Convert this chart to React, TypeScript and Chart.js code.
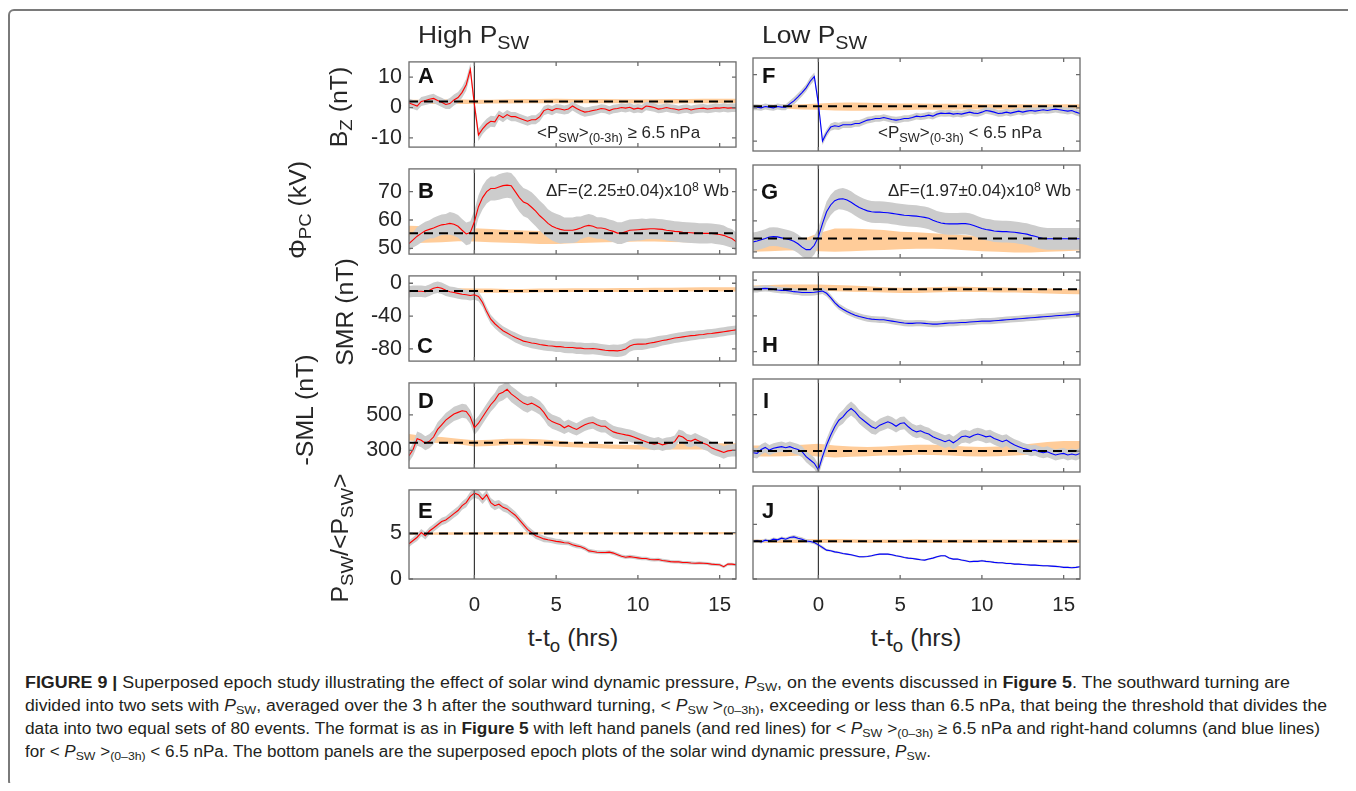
import React, { useEffect, useLayoutEffect, useRef } from "react";
import { Chart, registerables } from "chart.js";
Chart.register(...registerables);

// ---------- sample times ----------
const T = Array.from({ length: 81 }, (_, i) => -4 + i * 0.25); // epoch time (hrs), 15-min samples
const HOURS = Array.from({ length: 21 }, (_, i) => -4 + i); // hourly samples for band widths
const X_TICKS = [0, 5, 10, 15];

// ---------- Panel A : Bz, high Psw ----------
const A_MEAN = [
  1.5, 1, 0.5, 2, 2.3, 2.7, 3, 2.3, 1.7, 1, 1.3, 2.5, 3.3, 5, 7.5, 12.5,
  1, -9, -7, -5.5, -4.5, -4.7, -2.5, -3.3, -2.3, -3, -3, -3.5, -4, -4.5, -4, -4,
  -3, -1, -0.5, -1, -0.3, -0.5, -0.8, -0.5, 0.5, -0.3, -1, -1.5, -1.3, -1, -0.7, -0.3,
  -0.5, -1, -0.5, -0.3, 0, -0.2, 0.1, -0.5, -0.2, -0.5, 0.5, 0.3, 0, -0.5, -0.3, 0,
  -0.3, -0.5, -0.8, -0.5, -0.3, -0.8, -0.5, -0.3, -0.2, -0.5, -0.3, -0.1, -0.2, 0, -0.2, -0.1,
  -0.1,
];
const A_SD = [1.5, 1.5, 1.5, 1.8, 2, 1.8, 1.5, 1.5, 1.5, 1.5, 1.5, 1.5, 1.4, 1.4, 1.4, 1.4, 1.4, 1.4, 1.4, 1.4, 1.4];
const A_ORLO = [1.2, 1.2, 1.2, 1.2, 1.2, 1.3, 1.3, 1.4, 1.4, 1.4, 1.4, 1.4, 1.4, 1.4, 1.3, 1.3, 1.3, 1.4, 1.4, 1.4, 1.4];
const A_ORHI = [2.6, 2.6, 2.7, 2.7, 2.6, 2.6, 2.7, 2.8, 2.8, 2.9, 2.8, 2.8, 2.8, 2.7, 2.7, 2.7, 2.8, 2.8, 2.9, 2.9, 2.9];
const A_DASH = 2.0;

// ---------- Panel F : Bz, low Psw ----------
const F_MEAN = [
  0.2, 0.2, 0, 0.4, 0.2, 0, 0.4, 0.2, 0.2, 1.2, 2.1, 3.3, 4.6, 6, 8, 9.4,
  1.2, -10, -7.6, -5.8, -5.4, -5.6, -5.1, -5.1, -5.1, -4.7, -4.7, -4.2, -3.7, -3.5, -3.2, -3.2,
  -2.9, -3.2, -3.5, -3.7, -3.5, -3.2, -3.2, -2.9, -2.5, -2.7, -2.5, -2.2, -2.5, -1.9, -1.6, -1.7,
  -1.6, -1.9, -1.7, -1.9, -1.6, -1.3, -1.6, -1.7, -1.3, -0.8, -1, -1.3, -1.7, -1.6, -1.3, -1.6,
  -1.3, -1, -1.3, -1, -0.8, -1, -0.8, -0.6, -0.8, -0.6, -0.4, -0.6, -0.8, -1, -0.8, -1.3,
  -1.7,
];
const F_SD = [0.9, 0.9, 0.9, 1.1, 1.2, 1.1, 1, 1, 1, 1, 1, 1, 1, 1, 1, 1, 1, 1, 1, 1, 1];
const F_ORLO = [-0.3, -0.3, -0.3, -0.5, -0.6, -0.8, -0.9, -0.9, -0.8, -0.7, -0.6, -0.6, -0.6, -0.5, -0.5, -0.5, -0.5, -0.4, -0.4, -0.4, -0.4];
const F_ORHI = [0.9, 0.9, 1.0, 1.1, 1.3, 1.5, 1.6, 1.5, 1.4, 1.3, 1.3, 1.2, 1.2, 1.2, 1.1, 1.1, 1.1, 1.1, 1.1, 1.1, 1.1];
const F_DASH = 0.5;

// ---------- Panel B : Phi_PC, high Psw ----------
const B_MEAN = [
  51.7, 53, 54.3, 55.3, 56.2, 56.7, 57.2, 57.8, 58.3, 58.5, 58.8, 58.5, 57.8, 56.4, 55.1, 55.6,
  59.4, 64.7, 67.9, 70, 71.1, 71.1, 71.6, 72.1, 72.3, 72.1, 70, 67.9, 66.3, 65.7, 64.5, 63.1,
  61.5, 60.2, 58.8, 57.8, 57.2, 56.7, 56.4, 56.4, 56.4, 56.7, 57.2, 57.8, 58.1, 57.8, 57.2, 57.2,
  56.9, 56.4, 56, 55.4, 55.4, 55.9, 56.4, 56.5, 56.6, 56.7, 56.8, 56.9, 56.9, 56.8, 56.7, 56.4,
  56.2, 56, 55.9, 55.7, 55.6, 55.5, 55.4, 55.3, 55.3, 55.3, 55.3, 55.1, 54.9, 54.6, 54, 53.5,
  52.4,
];
const B_SD = [2.7, 3.2, 3.6, 4.0, 4.0, 4.2, 4.5, 5.0, 5.3, 5.0, 4.5, 4.0, 3.8, 3.8, 3.8, 3.6, 3.6, 3.6, 3.6, 3.5, 3.3];
const B_ORLO = [51.8, 52, 52.2, 52.5, 52.4, 52.2, 52, 51.8, 51.6, 51.6, 51.8, 52, 52.2, 52.3, 52.4, 52.4, 52.3, 52.2, 52.2, 52.3, 52.4];
const B_ORHI = [58, 57.8, 57.5, 57.3, 57.1, 56.8, 56.5, 56.3, 56.1, 55.9, 55.7, 55.6, 55.5, 55.5, 55.4, 55.4, 55.4, 55.4, 55.4, 55.4, 55.4];
const B_DASH = 55.3;

// ---------- Panel G : Phi_PC, low Psw ----------
const G_MEAN = [
  53.2, 53.5, 53.9, 54.3, 54.8, 54.9, 54.8, 54.5, 54.2, 53.9, 53.4, 52.6, 51.5, 50.7, 50.7, 52.1,
  54.8, 59.1, 62.9, 65.1, 66.5, 67, 67.1, 66.7, 66, 65.1, 64.3, 63.7, 63.2, 62.9, 62.8, 62.8,
  62.7, 62.6, 62.4, 62.2, 62, 61.8, 61.7, 61.6, 61.5, 61.3, 61.1, 60.8, 60.2, 59.7, 59.3, 59.1,
  59, 59, 59, 59.1, 59.1, 58.9, 58.5, 58, 57.5, 57.2, 57, 56.7, 56.6, 56.5, 56.5, 56.4,
  56.3, 56.1, 55.9, 55.7, 55.3, 55, 54.6, 54.3, 54.2, 54.2, 54.2, 54.2, 54.2, 54.2, 54.2, 54.2,
  54.2,
];
const G_SD = [3, 3, 3, 3, 3, 3.3, 3.5, 3.5, 3.5, 3.5, 3.5, 3.5, 3.5, 3.5, 3.5, 3.5, 3.5, 3.5, 3.5, 3.5, 3.5];
const G_ORLO = [50, 50.2, 50.4, 50.5, 50.2, 50, 50.2, 50.4, 50.6, 50.8, 51, 51, 50.8, 50.5, 50.2, 50, 49.8, 49.8, 50, 50.2, 50.4];
const G_ORHI = [52, 52.5, 53, 54, 56, 57.5, 57.5, 57.3, 57, 56.5, 56.3, 56, 55.7, 55.3, 55, 54.8, 54.5, 54.3, 54.2, 54.2, 54.2];
const G_DASH = 54.3;

// ---------- Panel C : SMR, high Psw ----------
const C_MEAN = [
  -10.4, -9.7, -9.7, -9.7, -10.4, -8.6, -6, -4.8, -6, -8.6, -10.4, -11.2, -12.3, -13.4, -14.1, -14.9,
  -14.1, -16, -23.4, -34.6, -43.9, -49.4, -53.9, -58, -60.6, -63.6, -66.2, -68.4, -70.6, -71.7, -72.9, -73.6,
  -74.7, -75.5, -76.2, -76.6, -77.3, -77.3, -78.1, -78.4, -78.4, -79.2, -79.2, -79.9, -79.9, -79.6, -80.3, -81,
  -81.8, -82.2, -82.2, -82.5, -81.8, -80.3, -76.6, -74.7, -74.3, -74.3, -74, -72.9, -72.1, -71, -69.9, -69.1,
  -68, -66.9, -66.2, -65.4, -64.7, -63.9, -63.6, -62.8, -62.5, -61.7, -61.3, -60.6, -59.9, -59.1, -58.4, -57.6,
  -56.9,
];
const C_SD = [7, 7, 7, 6.5, 6, 5.5, 5.5, 6, 6.5, 6.5, 7, 7, 7, 7.5, 7, 6.5, 6, 6, 5.5, 5.5, 5.5];
const C_ORLO = [-11, -11, -11, -11, -11.5, -11.5, -11.5, -11.5, -11, -11, -10.5, -10.5, -10.5, -10.5, -10.5, -10.5, -10.5, -10, -10, -10, -10];
const C_ORHI = [-6, -6, -6, -6, -6.5, -6.5, -7, -7, -6.5, -6.5, -6, -6, -6, -5.8, -5.8, -5.5, -5.5, -5.3, -5, -5, -5];
const C_DASH = -9.3;

// ---------- Panel H : SMR, low Psw ----------
const H_MEAN = [
  -10.4, -10.4, -9.6, -9.3, -9.6, -10.4, -11.1, -11.5, -11.5, -12.2, -13, -13.3, -14, -14, -14, -13.7,
  -13, -12.2, -14.8, -19.6, -25.2, -29.6, -32.6, -35.2, -37.4, -39.3, -40.7, -41.9, -43, -43.7, -44.1, -44.4,
  -44.4, -45.2, -45.9, -46.7, -47.4, -48.1, -48.5, -48.5, -48.1, -48.1, -48.5, -48.9, -49.3, -49.3, -48.9, -48.5,
  -48.1, -48.1, -47.8, -47.4, -47.4, -47, -46.7, -46.3, -45.9, -45.9, -45.9, -45.6, -45.2, -44.8, -44.4, -44.1,
  -43.7, -43.3, -43, -42.6, -42.2, -41.9, -41.5, -41.1, -40.7, -40.4, -40, -39.6, -39.3, -38.9, -38.5, -38.1,
  -37.8,
];
const H_SD = [3.5, 3.5, 3.5, 3.5, 3.5, 3.5, 3.5, 3.5, 3.5, 3.5, 3.5, 3.5, 3.5, 3.5, 3.5, 3.5, 3.5, 3.5, 3.5, 3.5, 3.5];
const H_ORLO = [-11, -11, -11, -11.5, -12, -12.5, -13, -13.5, -14, -14.5, -14.5, -14, -13.5, -13.5, -13.5, -14, -14, -14.5, -15, -15.5, -16];
const H_ORHI = [-6, -5.5, -5, -5, -5, -5.5, -6, -7, -8, -8.5, -8.5, -8, -7.5, -7.5, -8, -8, -8.5, -9, -9.5, -10, -10.5];
const H_DASH = -10.4;

// ---------- Panel D : -SML, high Psw ----------
const D_MEAN = [
  270, 305, 366, 357, 340, 352, 375, 418, 444, 470, 488, 505, 514, 523, 519, 488,
  427, 453, 488, 523, 557, 583, 618, 627, 644, 618, 601, 583, 566, 557, 566, 554,
  540, 514, 479, 462, 453, 444, 427, 439, 427, 418, 432, 444, 453, 457, 444, 436,
  436, 418, 404, 397, 392, 387, 383, 375, 366, 357, 349, 340, 335, 340, 331, 338,
  340, 349, 383, 375, 357, 352, 363, 352, 340, 331, 314, 305, 297, 288, 297, 300,
  300,
];
const D_SD = [35, 40, 40, 40, 40, 40, 45, 45, 40, 40, 35, 35, 35, 35, 35, 35, 35, 35, 35, 35, 35];
const D_ORLO = [355, 345, 340, 335, 322, 325, 330, 330, 328, 322, 318, 315, 310, 308, 305, 305, 305, 305, 305, 305, 305];
const D_ORHI = [392, 380, 375, 365, 357, 360, 365, 366, 362, 355, 345, 340, 335, 332, 330, 332, 335, 338, 340, 340, 340];
const D_DASH = 343;

// ---------- Panel I : -SML, low Psw ----------
const I_MEAN = [
  291, 287, 309, 320, 305, 315, 320, 324, 318, 324, 315, 309, 296, 269, 251, 233,
  196, 269, 333, 387, 433, 469, 487, 515, 533, 515, 487, 469, 451, 433, 424, 442,
  451, 460, 451, 436, 451, 455, 433, 415, 405, 411, 400, 393, 378, 369, 360, 351,
  360, 345, 360, 378, 382, 375, 387, 393, 387, 378, 382, 369, 360, 351, 360, 345,
  333, 324, 315, 309, 302, 305, 296, 291, 296, 287, 278, 284, 287, 278, 284, 278,
  287,
];
const I_SD = [28, 28, 28, 30, 32, 35, 38, 38, 35, 35, 35, 35, 35, 35, 35, 35, 32, 30, 30, 30, 30];
const I_ORLO = [270, 270, 272, 275, 270, 265, 268, 272, 275, 275, 280, 278, 275, 272, 270, 272, 275, 280, 285, 285, 285];
const I_ORHI = [330, 330, 332, 335, 340, 330, 325, 322, 325, 330, 335, 335, 330, 325, 322, 325, 330, 340, 350, 355, 355];
const I_DASH = 300;

// ---------- Panel E : Psw, high ----------
const E_MEAN = [
  3.8, 4.15, 4.5, 5, 4.66, 5.17, 5.5, 5.85, 6.19, 6.36, 6.7, 7.04, 7.38, 7.9, 8.23, 8.9,
  9.25, 9.08, 8.57, 9.08, 8.23, 7.9, 8.06, 7.72, 7.55, 7.2, 6.87, 6.36, 5.85, 5.34, 5, 4.66,
  4.5, 4.32, 4.22, 4.15, 4.05, 4, 3.9, 3.88, 3.7, 3.57, 3.47, 3.3, 3.03, 2.96, 2.89, 2.86,
  2.86, 2.89, 2.79, 2.62, 2.45, 2.35, 2.41, 2.35, 2.28, 2.21, 2.21, 2.1, 2.07, 2.1, 2, 1.94,
  1.87, 1.84, 1.84, 1.77, 1.77, 1.73, 1.7, 1.73, 1.7, 1.67, 1.6, 1.57, 1.53, 1.33, 1.6, 1.6,
  1.53,
];
const E_SD = [0.35, 0.4, 0.4, 0.45, 0.5, 0.5, 0.45, 0.4, 0.35, 0.3, 0.25, 0.22, 0.2, 0.2, 0.2, 0.18, 0.18, 0.18, 0.16, 0.16, 0.16];
const E_ORLO = [4.78, 4.78, 4.78, 4.78, 4.8, 4.8, 4.8, 4.8, 4.82, 4.82, 4.82, 4.82, 4.82, 4.82, 4.82, 4.82, 4.82, 4.82, 4.82, 4.82, 4.82];
const E_ORHI = [5.02, 5.02, 5.04, 5.04, 5.05, 5.06, 5.06, 5.06, 5.07, 5.07, 5.07, 5.07, 5.07, 5.07, 5.07, 5.07, 5.07, 5.07, 5.07, 5.07, 5.07];
const E_DASH = 4.9;

// ---------- Panel J : Psw, low ----------
const J_MEAN = [
  3.42, 3.48, 3.39, 3.55, 3.48, 3.64, 3.58, 3.73, 3.64, 3.79, 3.85, 3.73, 3.64, 3.48, 3.42, 3.33,
  3.12, 2.88, 2.64, 2.58, 2.48, 2.42, 2.33, 2.27, 2.21, 2.12, 2.03, 2.03, 2.06, 2.12, 2.21, 2.27,
  2.27, 2.27, 2.21, 2.12, 2.06, 1.97, 1.91, 1.88, 1.82, 1.76, 1.73, 1.82, 1.91, 2.03, 2.12, 2.12,
  1.91, 1.82, 1.82, 1.73, 1.67, 1.58, 1.61, 1.61, 1.67, 1.61, 1.58, 1.52, 1.48, 1.48, 1.42, 1.42,
  1.36, 1.36, 1.33, 1.3, 1.27, 1.27, 1.24, 1.21, 1.21, 1.18, 1.15, 1.12, 1.06, 1.06, 1.03, 1.06,
  1.12,
];
const J_SD = [0.15, 0.15, 0.15, 0.18, 0.15, 0.1, 0.08, 0.08, 0.08, 0.08, 0.08, 0.08, 0.08, 0.08, 0.08, 0.08, 0.08, 0.08, 0.08, 0.08, 0.08];
const J_ORLO = [3.3, 3.3, 3.3, 3.3, 3.3, 3.32, 3.32, 3.3, 3.3, 3.3, 3.3, 3.3, 3.3, 3.3, 3.3, 3.3, 3.3, 3.3, 3.3, 3.3, 3.3];
const J_ORHI = [3.6, 3.6, 3.62, 3.64, 3.66, 3.66, 3.64, 3.62, 3.62, 3.62, 3.64, 3.62, 3.6, 3.6, 3.6, 3.6, 3.6, 3.6, 3.6, 3.6, 3.6];
const J_DASH = 3.45;

// ---------- axis ranges / tick labels ----------
const BZ_RANGE = [-13, 15]; const BZ_TICKS = [-10, 0, 10];
const PC_RANGE = [48, 78]; const PC_TICKS = [50, 60, 70];
const SMR_RANGE = [-95, 9]; const SMR_TICKS = [-80, -40, 0];
const SML_RANGE = [200, 680]; const SML_TICKS = [300, 500];
const SML_RANGE_LOW = [185, 695];
const PSW_RANGE = [0, 9.6]; const PSW_TICKS = [0, 5];
const PSW_RANGE_LOW = [0, 8.5];

// ---------- styling / layout ----------
const FONT = '"Liberation Sans", Arial, Helvetica, sans-serif';
const CAP_FONT = '"Liberation Sans Narrow", "Liberation Sans", Arial, sans-serif';
const RED = "rgb(255,0,0)";
const BLUE = "rgb(0,0,255)";
const GREY = "rgb(204,204,204)";
const ORANGE = "rgb(255,204,153)";
const AXIS_COLOR = "#6b6b6b";
const TEXT_COLOR = "#262626";
const COL_LEFT = [409, 753];
const ROW_TOP = [58, 165, 272, 379, 486];
const PLOT_W = 327;
const PLOT_H = 93;
const AX_W = 60;
const PAD = 16;
const XAX_H = 40;

type PanelCfg = {
  col: number; row: number; mean: number[]; sd: number[]; orLo: number[]; orHi: number[];
  dash: number; range: number[]; ticks: number[]; color: string;
};

const PANELS: PanelCfg[] = [
  { col: 0, row: 0, mean: A_MEAN, sd: A_SD, orLo: A_ORLO, orHi: A_ORHI, dash: A_DASH, range: BZ_RANGE, ticks: BZ_TICKS, color: RED },
  { col: 0, row: 1, mean: B_MEAN, sd: B_SD, orLo: B_ORLO, orHi: B_ORHI, dash: B_DASH, range: PC_RANGE, ticks: PC_TICKS, color: RED },
  { col: 0, row: 2, mean: C_MEAN, sd: C_SD, orLo: C_ORLO, orHi: C_ORHI, dash: C_DASH, range: SMR_RANGE, ticks: SMR_TICKS, color: RED },
  { col: 0, row: 3, mean: D_MEAN, sd: D_SD, orLo: D_ORLO, orHi: D_ORHI, dash: D_DASH, range: SML_RANGE, ticks: SML_TICKS, color: RED },
  { col: 0, row: 4, mean: E_MEAN, sd: E_SD, orLo: E_ORLO, orHi: E_ORHI, dash: E_DASH, range: PSW_RANGE, ticks: PSW_TICKS, color: RED },
  { col: 1, row: 0, mean: F_MEAN, sd: F_SD, orLo: F_ORLO, orHi: F_ORHI, dash: F_DASH, range: BZ_RANGE, ticks: BZ_TICKS, color: BLUE },
  { col: 1, row: 1, mean: G_MEAN, sd: G_SD, orLo: G_ORLO, orHi: G_ORHI, dash: G_DASH, range: PC_RANGE, ticks: PC_TICKS, color: BLUE },
  { col: 1, row: 2, mean: H_MEAN, sd: H_SD, orLo: H_ORLO, orHi: H_ORHI, dash: H_DASH, range: SMR_RANGE, ticks: SMR_TICKS, color: BLUE },
  { col: 1, row: 3, mean: I_MEAN, sd: I_SD, orLo: I_ORLO, orHi: I_ORHI, dash: I_DASH, range: SML_RANGE_LOW, ticks: SML_TICKS, color: BLUE },
  { col: 1, row: 4, mean: J_MEAN, sd: J_SD, orLo: J_ORLO, orHi: J_ORHI, dash: J_DASH, range: PSW_RANGE_LOW, ticks: PSW_TICKS, color: BLUE },
];

const framePlugin = {
  id: "frame",
  afterDatasetsDraw(chart: any, _args: any, opts: any) {
    const { ctx, chartArea, scales } = chart;
    const { left, right, top, bottom } = chartArea;
    ctx.save();
    ctx.strokeStyle = AXIS_COLOR;
    ctx.lineWidth = 1.3;
    ctx.strokeRect(left, top, right - left, bottom - top);
    ctx.beginPath();
    for (const v of X_TICKS) {
      const px = scales.x.getPixelForValue(v);
      ctx.moveTo(px, bottom); ctx.lineTo(px, bottom - 4);
      ctx.moveTo(px, top); ctx.lineTo(px, top + 4);
    }
    for (const v of opts.yTicks as number[]) {
      const py = scales.y.getPixelForValue(v);
      ctx.moveTo(left, py); ctx.lineTo(left + 4, py);
      ctx.moveTo(right, py); ctx.lineTo(right - 4, py);
    }
    ctx.stroke();
    ctx.restore();
  },
};

function Panel({ cfg }: { cfg: PanelCfg }) {
  const ref = useRef<HTMLCanvasElement>(null);
  const isBottom = cfg.row === 4;
  const showY = cfg.col === 0;
  const w = AX_W + PLOT_W + PAD;
  const h = PAD + PLOT_H + (isBottom ? XAX_H : PAD);
  useEffect(() => {
    const sdAt = (i: number) => cfg.sd[Math.round(i / 4)];
    const meanPts = T.map((t, i) => ({ x: t, y: cfg.mean[i] }));
    const upPts = T.map((t, i) => ({ x: t, y: cfg.mean[i] + sdAt(i) }));
    const loPts = T.map((t, i) => ({ x: t, y: cfg.mean[i] - sdAt(i) }));
    const orHiPts = HOURS.map((t, i) => ({ x: t, y: cfg.orHi[i] }));
    const orLoPts = HOURS.map((t, i) => ({ x: t, y: cfg.orLo[i] }));
    const base = { pointRadius: 0, tension: 0 };
    const chart = new Chart(ref.current as HTMLCanvasElement, {
      type: "line",
      data: {
        datasets: [
          { ...base, data: [{ x: -4, y: cfg.dash }, { x: 16, y: cfg.dash }], borderColor: "#000", borderWidth: 2, borderDash: [9, 6], fill: false },
          { ...base, data: meanPts, borderColor: cfg.color, borderWidth: 1.1, fill: false },
          { ...base, data: [{ x: 0, y: cfg.range[0] }, { x: 0, y: cfg.range[1] }], borderColor: "#3a3a3a", borderWidth: 1.2, fill: false },
          { ...base, data: upPts, borderWidth: 0, borderColor: "rgba(0,0,0,0)", backgroundColor: GREY, fill: "+1" },
          { ...base, data: loPts, borderWidth: 0, borderColor: "rgba(0,0,0,0)", fill: false },
          { ...base, data: orHiPts, borderWidth: 0, borderColor: "rgba(0,0,0,0)", backgroundColor: ORANGE, fill: "+1" },
          { ...base, data: orLoPts, borderWidth: 0, borderColor: "rgba(0,0,0,0)", fill: false },
        ] as any,
      },
      options: {
        responsive: false,
        animation: false,
        events: [],
        layout: { padding: { left: 0, right: PAD, top: PAD, bottom: isBottom ? 0 : PAD } },
        plugins: { legend: { display: false }, tooltip: { enabled: false }, frame: { yTicks: cfg.ticks } } as any,
        scales: {
          x: {
            type: "linear", min: -4, max: 16, display: isBottom,
            grid: { display: false, drawTicks: false }, border: { display: false },
            ticks: { font: { family: FONT, size: 20.5 }, color: TEXT_COLOR, padding: 14, maxRotation: 0, autoSkip: false },
            afterBuildTicks: (s: any) => { s.ticks = X_TICKS.map((v) => ({ value: v })); },
            afterFit: (s: any) => { s.height = isBottom ? XAX_H : 0; },
          },
          y: {
            type: "linear", min: cfg.range[0], max: cfg.range[1],
            grid: { display: false, drawTicks: false }, border: { display: false },
            ticks: { display: showY, font: { family: FONT, size: 21.5 }, color: TEXT_COLOR, padding: 7, autoSkip: false },
            afterBuildTicks: (s: any) => { s.ticks = cfg.ticks.map((v) => ({ value: v })); },
            afterFit: (s: any) => { s.width = AX_W; },
          },
        } as any,
      },
      plugins: [framePlugin],
    });
    return () => chart.destroy();
  }, []);
  return (
    <canvas
      ref={ref}
      width={w}
      height={h}
      style={{ position: "absolute", left: COL_LEFT[cfg.col] - AX_W, top: ROW_TOP[cfg.row] - PAD, width: w, height: h }}
    />
  );
}

const subStyle: React.CSSProperties = { fontSize: "0.75em", verticalAlign: "-0.32em", lineHeight: 0 };
const Sub = ({ children }: { children: React.ReactNode }) => <sub style={subStyle}>{children}</sub>;

// text placed by baseline (line-height 1); sx = horizontal stretch
function Txt({ x, base, size, bold, children, center, sx = 1, style }: any) {
  return (
    <div
      style={{
        position: "absolute", left: x, top: base - 0.8465 * size, fontSize: size, lineHeight: 1,
        fontFamily: FONT, fontWeight: bold ? 700 : 400, color: TEXT_COLOR, whiteSpace: "nowrap",
        transformOrigin: center ? "50% 50%" : "0 0",
        transform: center ? `translateX(-50%) scaleX(${sx})` : `scaleX(${sx})`, ...style,
      }}
    >
      {children}
    </div>
  );
}

// rotated y-axis title: baseline x, centre y
function VTxt({ baseX, cy, size, sx = 1, children }: any) {
  const cx = baseX - 0.3465 * size;
  return (
    <div
      style={{
        position: "absolute", left: cx, top: cy, fontSize: size, lineHeight: 1, height: size,
        fontFamily: FONT, color: TEXT_COLOR, whiteSpace: "nowrap",
        transform: `translate(-50%,-50%) rotate(-90deg) scaleX(${sx})`,
      }}
    >
      {children}
    </div>
  );
}

function FitLine({ x, base, width, children }: any) {
  const ref = useRef<HTMLDivElement>(null);
  useLayoutEffect(() => {
    const el = ref.current as HTMLDivElement;
    el.style.transform = "none";
    const w = el.getBoundingClientRect().width;
    if (w > 0) el.style.transform = `scaleX(${width / w})`;
  }, []);
  const size = 16;
  return (
    <div
      ref={ref}
      style={{
        position: "absolute", left: x, top: base - 0.8465 * size, fontSize: size, lineHeight: 1,
        fontFamily: CAP_FONT, color: "#231f20", whiteSpace: "nowrap", transformOrigin: "0 0",
      }}
    >
      {children}
    </div>
  );
}

const capSub: React.CSSProperties = { fontSize: "0.72em", verticalAlign: "-0.25em", lineHeight: 0 };
const P = () => (<><i>P</i><sub style={capSub}>SW</sub></>);
const PAvg = () => (<>&lt; <i>P</i><sub style={capSub}>SW</sub> &gt;<sub style={capSub}>(0–3h)</sub></>);
const supStyle: React.CSSProperties = { fontSize: "0.72em", verticalAlign: "0.45em", lineHeight: 0 };

export default function App() {
  return (
    <div style={{ position: "relative", width: 1356, height: 791, margin: -8, background: "#fff", overflow: "hidden" }}>
      <div style={{ position: "absolute", left: 8, top: 9, width: 1345, height: 778, boxSizing: "border-box", border: "2px solid #7a7a7a", borderRadius: 6 }} />
      {PANELS.map((p, i) => <Panel key={i} cfg={p} />)}

      {/* column titles */}
      <Txt x={418} base={43.5} size={24} sx={1.1}>High P<Sub>SW</Sub></Txt>
      <Txt x={762} base={43.5} size={24} sx={1.1}>Low P<Sub>SW</Sub></Txt>

      {/* y-axis titles */}
      <VTxt baseX={347} cy={107} size={23} sx={1.08}>B<Sub>Z</Sub> (nT)</VTxt>
      <VTxt baseX={306} cy={210} size={23} sx={1.08}>Φ<Sub>PC</Sub> (kV)</VTxt>
      <VTxt baseX={353} cy={312} size={23} sx={1.08}>SMR (nT)</VTxt>
      <VTxt baseX={313} cy={410} size={23} sx={1.08}>-SML (nT)</VTxt>
      <VTxt baseX={348} cy={538} size={23} sx={1.08}>P<Sub>SW</Sub>/&lt;P<Sub>SW</Sub>&gt;</VTxt>

      {/* panel letters */}
      {[["A", 418, 84], ["B", 418, 199], ["C", 417, 354], ["D", 418, 409], ["E", 418, 519],
        ["F", 762, 84], ["G", 761, 200], ["H", 762, 353], ["I", 763, 409], ["J", 762, 519]].map(([l, x, b]: any) => (
        <Txt key={l} x={x} base={b} size={22} bold style={{ color: "#111" }}>{l}</Txt>
      ))}

      {/* annotations */}
      <Txt x={537} base={138} size={17}>&lt;P<Sub>SW</Sub>&gt;<Sub>(0-3h)</Sub> ≥ 6.5 nPa</Txt>
      <Txt x={878} base={138} size={17}>&lt;P<Sub>SW</Sub>&gt;<Sub>(0-3h)</Sub> &lt; 6.5 nPa</Txt>
      <Txt x={546} base={196} size={17}>ΔF=(2.25±0.04)x10<sup style={supStyle}>8</sup> Wb</Txt>
      <Txt x={888} base={196} size={17}>ΔF=(1.97±0.04)x10<sup style={supStyle}>8</sup> Wb</Txt>

      {/* x-axis titles */}
      <Txt x={572.5} base={647} size={23.5} sx={1.06} center>t-t<Sub>o</Sub> (hrs)</Txt>
      <Txt x={916} base={647} size={23.5} sx={1.06} center>t-t<Sub>o</Sub> (hrs)</Txt>

      {/* caption */}
      <FitLine x={25} base={689} width={1265}>
        <b>FIGURE 9 |</b> Superposed epoch study illustrating the effect of solar wind dynamic pressure, <P />, on the events discussed in <b>Figure 5</b>. The southward turning are
      </FitLine>
      <FitLine x={25} base={712} width={1302}>
        divided into two sets with <P />, averaged over the 3 h after the southward turning, <PAvg />, exceeding or less than 6.5 nPa, that being the threshold that divides the
      </FitLine>
      <FitLine x={25} base={735} width={1295}>
        data into two equal sets of 80 events. The format is as in <b>Figure 5</b> with left hand panels (and red lines) for <PAvg /> ≥ 6.5 nPa and right-hand columns (and blue lines)
      </FitLine>
      <FitLine x={25} base={758} width={906}>
        for <PAvg /> &lt; 6.5 nPa. The bottom panels are the superposed epoch plots of the solar wind dynamic pressure, <P />.
      </FitLine>
    </div>
  );
}
